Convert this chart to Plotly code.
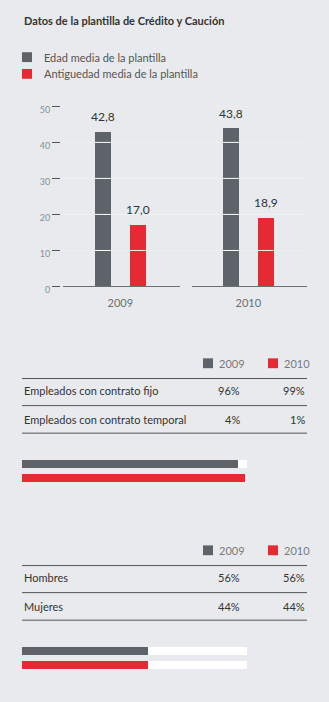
import plotly.graph_objects as go

# ---------------- data ----------------
title_text = "Datos de la plantilla de Crédito y Caución"
years = ["2009", "2010"]
series_names = ["Edad media de la plantilla", "Antiguedad media de la plantilla"]
edad_media = [42.8, 43.8]
antiguedad_media = [17.0, 18.9]
y_ticks = [0, 10, 20, 30, 40, 50]

contrato_labels = ["Empleados con contrato fijo", "Empleados con contrato temporal"]
contrato_2009 = [96, 4]
contrato_2010 = [99, 1]

genero_labels = ["Hombres", "Mujeres"]
genero_2009 = [56, 44]
genero_2010 = [56, 44]

# ---------------- style ----------------
W, H = 329, 702
BG = "#e8eaed"
GRAY = "#5e6369"
RED = "#e52a33"
TXT = "#333333"
FONT = "Lato"


def px(x):
    return x / W


def py(y):
    return 1 - y / H


def fmt(v):
    return f"{v:.1f}".replace(".", ",")


fig = go.Figure()
shapes = []
annotations = []

# ---------------- top bar chart ----------------
BW = 0.46
for i, yr in enumerate(years):
    xa = "x" if i == 0 else "x2"
    vals = [edad_media[i], antiguedad_media[i]]
    cols = [GRAY, RED]
    for j, v in enumerate(vals):
        fig.add_bar(x=[j], y=[v], width=BW, marker=dict(color=cols[j], line=dict(width=0)),
                    xaxis=xa, yaxis="y", showlegend=False, hoverinfo="skip")
        annotations.append(dict(x=j, y=v, xref=xa, yref="y", text=fmt(v), showarrow=False,
                                yanchor="bottom", yshift=6,
                                font=dict(family=FONT, size=12, color=TXT)))
        for t in y_ticks[1:-1]:
            if t < v:
                shapes.append(dict(type="line", xref=xa, yref="y", x0=j - BW / 2, x1=j + BW / 2,
                                   y0=t, y1=t, line=dict(color="white", width=1), layer="above"))

# faint grid lines on background
for t in y_ticks[1:]:
    shapes.append(dict(type="line", xref="paper", yref="y", x0=px(63), x1=px(307), y0=t, y1=t,
                       line=dict(color="#eef0f2", width=1), layer="below"))

# legend top
leg_cols = [GRAY, RED]
for k, name in enumerate(series_names):
    yc = 55 + k * 17
    shapes.append(dict(type="rect", xref="paper", yref="paper", x0=px(22), x1=px(32),
                       y0=py(yc + 5), y1=py(yc - 5), fillcolor=leg_cols[k], line=dict(width=0)))
    annotations.append(dict(x=px(42), y=py(yc), xref="paper", yref="paper", text=name,
                            showarrow=False, xanchor="left", yanchor="middle",
                            font=dict(family=FONT, size=11, color="#555555")))

# title
annotations.append(dict(x=px(22), y=py(18), xref="paper", yref="paper", text=f"<b>{title_text}</b>",
                        showarrow=False, xanchor="left", yanchor="middle",
                        font=dict(family=FONT, size=11, color=TXT)))


# ---------------- tables ----------------
def table(top, labels, v09, v10, xa, ya):
    # header legend
    hy = top
    for k, (yr, col, xs) in enumerate(zip(years, [GRAY, RED], [203, 268])):
        shapes.append(dict(type="rect", xref="paper", yref="paper", x0=px(xs), x1=px(xs + 10),
                           y0=py(hy + 5), y1=py(hy - 5), fillcolor=col, line=dict(width=0)))
        annotations.append(dict(x=px(xs + 14), y=py(hy), xref="paper", yref="paper", text=yr,
                                showarrow=False, xanchor="left", yanchor="middle",
                                font=dict(family=FONT, size=11, color="#777a7f")))
    lines_y = [top + 15.5, top + 43, top + 71]
    for ly in lines_y:
        shapes.append(dict(type="line", xref="paper", yref="paper", x0=px(22), x1=px(307),
                           y0=py(ly), y1=py(ly), line=dict(color="#555555", width=1)))
    for r, lab in enumerate(labels):
        ry = top + 28 + r * 28.7
        annotations.append(dict(x=px(22), y=py(ry), xref="paper", yref="paper", text=lab,
                                showarrow=False, xanchor="left", yanchor="middle",
                                font=dict(family=FONT, size=11, color=TXT)))
        annotations.append(dict(x=px(242), y=py(ry), xref="paper", yref="paper", text=f"{v09[r]}%",
                                showarrow=False, xanchor="right", yanchor="middle",
                                font=dict(family=FONT, size=11, color=TXT)))
        annotations.append(dict(x=px(307), y=py(ry), xref="paper", yref="paper", text=f"{v10[r]}%",
                                showarrow=False, xanchor="right", yanchor="middle",
                                font=dict(family=FONT, size=11, color=TXT)))
    total = [sum(v09), sum(v10)]
    hb = 0.57
    fig.add_bar(x=total, y=[1, 0], orientation="h", width=hb, marker=dict(color="white", line=dict(width=0)),
                xaxis=xa, yaxis=ya, showlegend=False, hoverinfo="skip")
    fig.add_bar(x=[v09[0]], y=[1], orientation="h", width=hb, marker=dict(color=GRAY, line=dict(width=0)),
                xaxis=xa, yaxis=ya, showlegend=False, hoverinfo="skip")
    fig.add_bar(x=[v10[0]], y=[0], orientation="h", width=hb, marker=dict(color=RED, line=dict(width=0)),
                xaxis=xa, yaxis=ya, showlegend=False, hoverinfo="skip")


table(366, contrato_labels, contrato_2009, contrato_2010, "x3", "y3")
table(556, genero_labels, genero_2009, genero_2010, "x4", "y4")

hidden = dict(visible=False, fixedrange=True)
fig.update_layout(
    width=W, height=H, margin=dict(l=0, r=0, t=0, b=0),
    paper_bgcolor=BG, plot_bgcolor=BG, barmode="overlay", bargap=0,
    font=dict(family=FONT, color=TXT),
    shapes=shapes, annotations=annotations,
    xaxis=dict(domain=[px(63), px(180)], range=[-1.13, 2.2], anchor="y", showline=True,
               linecolor="#6b6e73", linewidth=1, tickvals=[0.5], ticktext=[years[0]], ticks="",
               tickfont=dict(family=FONT, size=11, color="#6b6e73"), showgrid=False, zeroline=False,
               ticklabelstandoff=6, fixedrange=True),
    xaxis2=dict(domain=[px(192), px(307)], range=[-1.13, 2.2], anchor="y", showline=True,
                linecolor="#6b6e73", linewidth=1, tickvals=[0.5], ticktext=[years[1]], ticks="",
                tickfont=dict(family=FONT, size=11, color="#6b6e73"), showgrid=False, zeroline=False,
                ticklabelstandoff=6, fixedrange=True),
    yaxis=dict(domain=[py(288), py(105)], range=[0, 50], anchor="free", position=px(60),
               tickvals=y_ticks, ticks="outside", ticklen=8, tickcolor="#555555", tickwidth=1,
               tickfont=dict(family=FONT, size=9, color="#8c8f94"), showline=False, showgrid=False,
               zeroline=False, ticklabelshift=3, fixedrange=True),
    xaxis3=dict(domain=[px(22), px(247)], range=[0, 100], anchor="y3", **hidden),
    yaxis3=dict(domain=[py(489), py(461)], range=[-0.5, 1.5], anchor="x3", **hidden),
    xaxis4=dict(domain=[px(22), px(247)], range=[0, 100], anchor="y4", **hidden),
    yaxis4=dict(domain=[py(679), py(651)], range=[-0.5, 1.5], anchor="x4", **hidden),
)

fig.write_html("out.html", config={"displayModeBar": False})
